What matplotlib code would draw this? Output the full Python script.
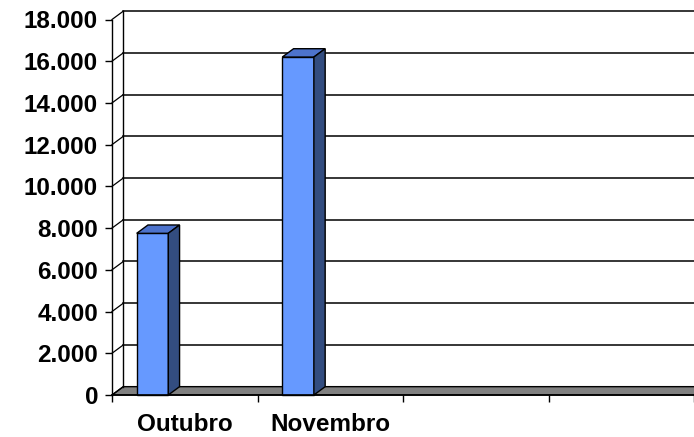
import numpy as np
import matplotlib
matplotlib.use("Agg")
import matplotlib.pyplot as plt
from matplotlib.patches import Polygon

# data
months = ["Outubro", "Novembro"]
values = [7750, 16200]
n_slots = 4          # category slots on the x axis (2 empty)
y_max = 18000
y_step = 2000

# 3D look
dx = 0.0776          # depth offset in category units
dy = 400             # depth offset in value units
bar_off = 0.278      # bar centre inside its slot
bar_w = 0.217
c_front = "#6699ff"
c_top = "#4d73cc"
c_side = "#334d80"

plt.rcParams["font.family"] = ["Liberation Sans", "DejaVu Sans"]

fig = plt.figure(figsize=(6.94, 4.37), dpi=100)
ax = fig.add_axes([112 / 694, 42 / 437, 582.4 / 694, 375.5 / 437])
ax.set_xlim(0, n_slots)
ax.set_ylim(0, y_max)

yt = np.arange(0, y_max + 1, y_step)

# floor
floor = Polygon([(0, 0), (n_slots + 1, 0), (n_slots + 1 + dx, dy), (dx, dy)],
                closed=True, facecolor="#808080", edgecolor="black", lw=1,
                clip_on=False, zorder=1)
ax.add_patch(floor)

# back wall gridlines + side wall slants
for v in yt:
    if v > 0:
        ax.plot([dx, n_slots + 1], [v + dy, v + dy], color="black", lw=1.1,
                clip_on=False, zorder=1)
    ax.plot([0, dx], [v, v + dy], color="black", lw=0.9, clip_on=False, zorder=1)
ax.plot([dx, dx], [dy, y_max + dy], color="black", lw=1, clip_on=False, zorder=1)

# bars
for i, (m, v) in enumerate(zip(months, values)):
    x0 = i + bar_off - bar_w / 2
    x1 = x0 + bar_w
    ax.bar(x0, v, width=bar_w, align="edge", color=c_front, edgecolor="black",
           lw=1, zorder=3, clip_on=False)
    top = Polygon([(x0, v), (x1, v), (x1 + dx, v + dy), (x0 + dx, v + dy)],
                  closed=True, facecolor=c_top, edgecolor="black", lw=1,
                  zorder=3, clip_on=False)
    side = Polygon([(x1, 0), (x1 + dx, dy), (x1 + dx, v + dy), (x1, v)],
                   closed=True, facecolor=c_side, edgecolor="black", lw=1,
                   zorder=3, clip_on=False)
    ax.add_patch(top)
    ax.add_patch(side)

# axes
for s in ["top", "right"]:
    ax.spines[s].set_visible(False)
ax.spines["left"].set_linewidth(1)
ax.spines["bottom"].set_linewidth(1.2)
ax.spines["bottom"].set_bounds(0, n_slots + 1)
ax.spines["left"].set_zorder(4)
ax.spines["bottom"].set_zorder(4)

ax.set_yticks(yt)
ax.set_yticklabels([f"{v:,}".replace(",", ".") for v in yt],
                   fontsize=17.5, fontweight="bold")
ax.tick_params(axis="y", direction="out", length=5, width=1, pad=5)

ax.set_xticks(np.arange(len(months)) + 0.5)
ax.set_xticklabels(months, fontsize=17.5, fontweight="bold")
ax.set_xticks(np.arange(0, n_slots + 1), minor=True)
ax.tick_params(axis="x", which="major", length=0, pad=13)
ax.tick_params(axis="x", which="minor", direction="out", length=5, width=1)

fig.savefig("out.png", dpi=100)
